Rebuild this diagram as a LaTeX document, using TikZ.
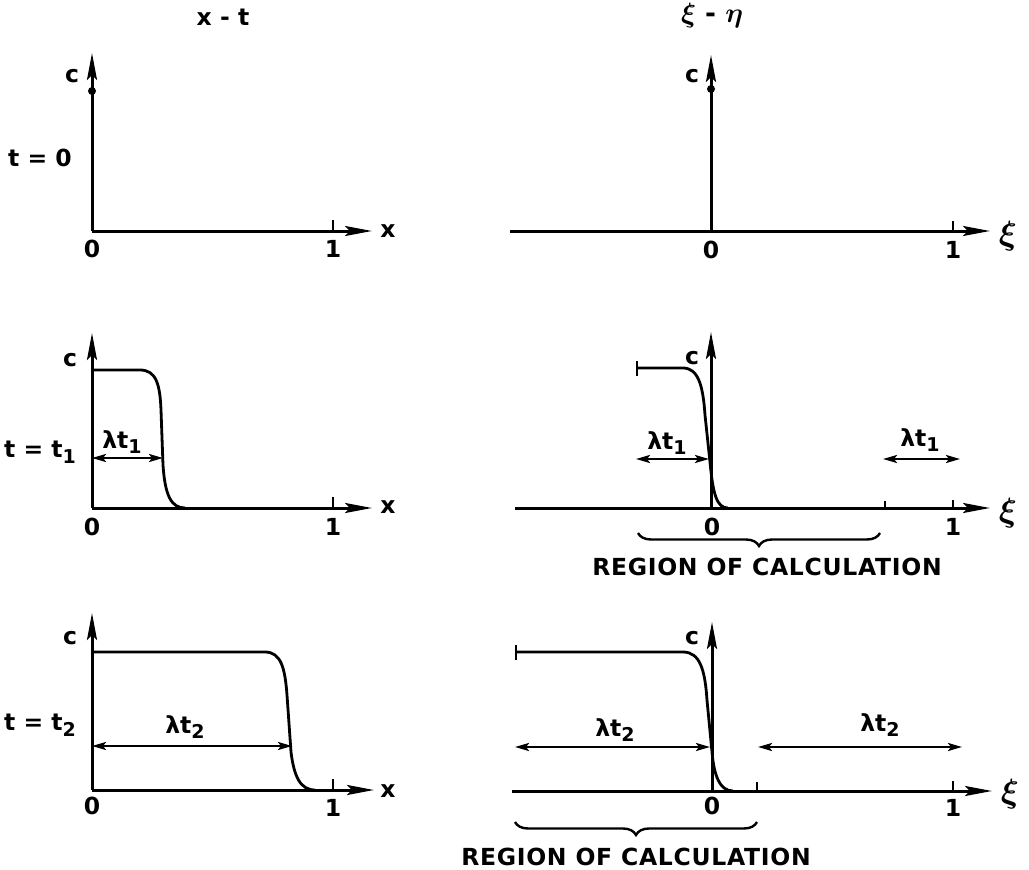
\documentclass[tikz,border=0pt]{standalone}
\usepackage{fontspec}
\setmainfont{DejaVu Sans}[BoldFont={DejaVu Sans Bold}]
\usepackage{bm}
\usetikzlibrary{arrows.meta,decorations.pathreplacing}
\newcommand\sbs[1]{\raisebox{-0.45ex}{\fontsize{19}{19}\selectfont #1}}
\newcommand\bxi{\scalebox{1.35}{$\bm{\xi}$}}
\begin{document}
\begin{tikzpicture}[x=1pt,y=-1pt,
  axis/.style={line width=3pt,-{Stealth[length=27pt,width=10pt,inset=5pt]}},
  curve/.style={line width=2.8pt,line join=round},
  dim/.style={line width=2.4pt,{Stealth[length=14pt,width=8pt,inset=3pt]}-{Stealth[length=14pt,width=8pt,inset=3pt]}},
  tk/.style={line width=2.4pt},
  lab/.style={font=\fontsize{23.5}{23.5}\selectfont\bfseries,inner sep=0pt},
  dot/.style={circle,fill,inner sep=0pt,minimum size=8pt},
  brc/.style={line width=2.4pt,decorate,decoration={brace,mirror,amplitude=13pt}}]
\useasboundingbox (0,0) rectangle (1029,870);

% ---------- Row 1 left ----------
\coordinate (o1) at (92,231);
\coordinate (y1) at (92,53);
\coordinate (x1) at (372,231);
\coordinate (k1a) at (333,231); \coordinate (k1b) at (333,220);
\draw[axis] (o1) -- (y1);
\draw[axis] (o1) -- (x1);
\draw[tk] (k1a) -- (k1b);
\node[dot] (d1) at (92,91) {};
\node[lab] (T1) at (223,17) {x - t};
\node[lab] (c1) at (72,76) {c};
\node[lab] (t0) at (40,158) {t = 0};
\node[lab] (z1) at (92,249) {0};
\node[lab] (u1) at (333,249) {1};
\node[lab] (xl1) at (388,231) {x};

% ---------- Row 1 right ----------
\coordinate (o2) at (711,231);
\coordinate (l2) at (510,231);
\coordinate (y2) at (711,55);
\coordinate (x2) at (990,231);
\coordinate (k2a) at (953,231); \coordinate (k2b) at (953,221);
\draw[line width=3pt] (l2) -- (o2);
\draw[axis] (o2) -- (x2);
\draw[axis] (o2) -- (y2);
\draw[tk] (k2a) -- (k2b);
\node[dot] (d2) at (711,89) {};
\node[lab] (T2) at (712,16) {\scalebox{1.12}{$\bm{\xi}$ - $\bm{\eta}$}};
\node[lab] (c2) at (692,76) {c};
\node[lab] (z2) at (711,250) {0};
\node[lab] (u2) at (953,250) {1};
\node[lab] (xi2) at (1008,236) {\bxi};

% ---------- Row 2 left ----------
\coordinate (o3) at (92,508);
\coordinate (y3) at (92,333);
\coordinate (x3) at (372,508);
\coordinate (k3a) at (333,508); \coordinate (k3b) at (333,497);
\coordinate (a3l) at (92,458); \coordinate (a3r) at (163,458);
\draw[axis] (o3) -- (y3);
\draw[axis] (o3) -- (x3);
\draw[tk] (k3a) -- (k3b);
\draw[curve] (92,370) -- (140,370) .. controls (156,370) and (160,384) .. (161,410)
  -- (163,465) .. controls (165,495) and (171,508) .. (185,508);
\draw[dim] (a3l) -- (a3r);
\node[lab] (c3) at (70,360) {c};
\node[lab] (tt1) at (40,452) {t = t\sbs{1}};
\node[lab] (lt3) at (122,442) {λt\sbs{1}};
\node[lab] (z3) at (92,527) {0};
\node[lab] (u3) at (333,527) {1};
\node[lab] (xl3) at (388,507) {x};

% ---------- Row 2 right ----------
\coordinate (l4) at (515,508);
\coordinate (o4) at (711,508);
\coordinate (x4) at (990,508);
\coordinate (y4) at (711,332);
\coordinate (k4a) at (953,508); \coordinate (k4b) at (953,500);
\coordinate (s4a) at (885,508); \coordinate (s4b) at (885,501);
\coordinate (a4l) at (636,459); \coordinate (a4r) at (709,459);
\coordinate (b4l) at (883,459); \coordinate (b4r) at (960,459);
\coordinate (r4l) at (638,533); \coordinate (r4r) at (880,533);
\draw[line width=3pt] (l4) -- (o4);
\draw[axis] (o4) -- (x4);
\draw[axis] (o4) -- (y4);
\draw[tk] (k4a) -- (k4b);
\draw[tk] (s4a) -- (s4b);
\draw[curve,{Bar[width=15pt,line width=2.4pt]}-] (636,368) -- (683,368) .. controls (698,368) and (703,385) .. (705,415)
  -- (710,462) .. controls (713,495) and (717,508) .. (728,508);
\draw[dim] (a4l) -- (a4r);
\draw[dim] (b4l) -- (b4r);
\draw[brc] (r4l) -- (r4r);
\node[lab] (c4) at (692,358) {c};
\node[lab] (lt4a) at (667,443) {λt\sbs{1}};
\node[lab] (lt4b) at (920,440) {λt\sbs{1}};
\node[lab] (z4) at (712,527) {0};
\node[lab] (u4) at (953,527) {1};
\node[lab] (xi4) at (1008,513) {\bxi};
\node[lab] (R4) at (767,567) {\addfontfeatures{LetterSpace=3}REGION OF CALCULATION};

% ---------- Row 3 left ----------
\coordinate (o5) at (92,790);
\coordinate (y5) at (92,613);
\coordinate (x5) at (374,790);
\coordinate (k5a) at (333,790); \coordinate (k5b) at (333,779);
\coordinate (a5l) at (92,746); \coordinate (a5r) at (292,746);
\draw[axis] (o5) -- (y5);
\draw[axis] (o5) -- (x5);
\draw[tk] (k5a) -- (k5b);
\draw[curve] (92,652) -- (265,652) .. controls (281,652) and (285,668) .. (287,695)
  -- (291,752) .. controls (294,776) and (300,790) .. (315,790);
\draw[dim] (a5l) -- (a5r);
\node[lab] (c5) at (70,638) {c};
\node[lab] (tt2) at (40,725) {t = t\sbs{2}};
\node[lab] (lt5) at (185,727) {λt\sbs{2}};
\node[lab] (z5) at (92,806) {0};
\node[lab] (u5) at (333,808) {1};
\node[lab] (xl5) at (388,791) {x};

% ---------- Row 3 right ----------
\coordinate (l6) at (512,791);
\coordinate (o6) at (712,791);
\coordinate (x6) at (992,791);
\coordinate (y6) at (712,622);
\coordinate (k6a) at (953,791); \coordinate (k6b) at (953,781);
\coordinate (s6a) at (757,791); \coordinate (s6b) at (757,782);
\coordinate (a6l) at (515,747); \coordinate (a6r) at (710,747);
\coordinate (b6l) at (758,747); \coordinate (b6r) at (962,747);
\coordinate (r6l) at (515,822); \coordinate (r6r) at (757,822);
\draw[line width=3pt] (l6) -- (o6);
\draw[axis] (o6) -- (x6);
\draw[axis] (o6) -- (y6);
\draw[tk] (k6a) -- (k6b);
\draw[tk] (s6a) -- (s6b);
\draw[curve,{Bar[width=15pt,line width=2.4pt]}-] (515,652) -- (683,652) .. controls (700,652) and (705,670) .. (707,700)
  -- (712,752) .. controls (714,776) and (720,791) .. (733,791);
\draw[dim] (a6l) -- (a6r);
\draw[dim] (b6l) -- (b6r);
\draw[brc] (r6l) -- (r6r);
\node[lab] (c6) at (692,638) {c};
\node[lab] (lt6a) at (615,730) {λt\sbs{2}};
\node[lab] (lt6b) at (880,725) {λt\sbs{2}};
\node[lab] (z6) at (712,806) {0};
\node[lab] (u6) at (953,808) {1};
\node[lab] (xi6) at (1010,794) {\bxi};
\node[lab] (R6) at (636,857) {\addfontfeatures{LetterSpace=3}REGION OF CALCULATION};
\end{tikzpicture}
\end{document}
